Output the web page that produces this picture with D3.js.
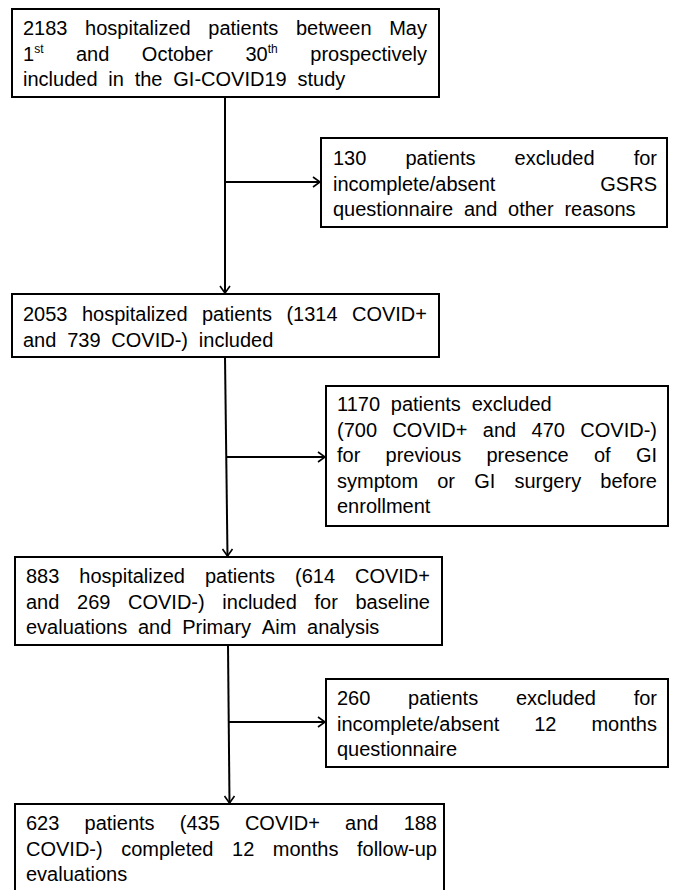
<!DOCTYPE html>
<html lang="en">
<head>
<meta charset="UTF-8">
<title>GI-COVID19 flow chart</title>
<script src="https://d3js.org/d3.v7.min.js"></script>
<style>
  body { margin: 0; background: #fff; }
  svg text { font-family: "Liberation Sans", Arial, sans-serif; font-size: 20px; fill: #000; }
</style>
</head>
<body>
<div id="chart"></div>
<script>
// text of each box, one array per line; "^" marks a superscript, "|" marks the last (unjustified) line
var box1Lines = [
  "2183 hospitalized patients between May",
  "1^st and October 30^th prospectively",
  "|included in the GI-COVID19 study"
];
var box2Lines = [
  "130 patients excluded for",
  "incomplete/absent GSRS",
  "|questionnaire and other reasons"
];
var box3Lines = [
  "2053 hospitalized patients (1314 COVID+",
  "|and 739 COVID-) included"
];
var box4Lines = [
  "|1170 patients excluded",
  "(700 COVID+ and 470 COVID-)",
  "for previous presence of GI",
  "symptom or GI surgery before",
  "|enrollment"
];
var box5Lines = [
  "883 hospitalized patients (614 COVID+",
  "and 269 COVID-) included for baseline",
  "|evaluations and Primary Aim analysis"
];
var box6Lines = [
  "260 patients excluded for",
  "incomplete/absent 12 months",
  "|questionnaire"
];
var box7Lines = [
  "623 patients (435 COVID+ and 188",
  "COVID-) completed 12 months follow-up",
  "|evaluations"
];

// layout of the boxes
var boxes = [
  {lines: box1Lines, x: 12,  y: 9,   w: 427, h: 88,  tx0: 23,  tx1: 427, base: 35},
  {lines: box2Lines, x: 321, y: 138, w: 346, h: 89,  tx0: 333, tx1: 657, base: 165},
  {lines: box3Lines, x: 12,  y: 294, w: 427, h: 63,  tx0: 23,  tx1: 427, base: 321},
  {lines: box4Lines, x: 326, y: 386, w: 342, h: 140, tx0: 337, tx1: 657, base: 411},
  {lines: box5Lines, x: 15,  y: 557, w: 427, h: 88,  tx0: 26,  tx1: 430, base: 583},
  {lines: box6Lines, x: 326, y: 679, w: 342, h: 88,  tx0: 337, tx1: 657, base: 705},
  {lines: box7Lines, x: 15,  y: 804, w: 429, h: 100, tx0: 26,  tx1: 437, base: 830}
];
var lineGap = 25.5;
var wordGap = 10.8;   // spacing between words on an unjustified line

// connectors: main trunk plus the side branch to the exclusion box
var links = [
  {x0: 225, y0: 97,  x1: 225,   y1: 294, by: 182, bx: 321},
  {x0: 225, y0: 357, x1: 227.5, y1: 557, by: 457, bx: 326},
  {x0: 228, y0: 645, x1: 229.5, y1: 804, by: 722, bx: 326}
];

var W = 673, H = 890;
var svg = d3.select("#chart").append("svg")
  .attr("width", W).attr("height", H);

// box outlines
svg.selectAll("rect.box")
  .data(boxes)
  .enter().append("rect")
    .attr("class", "box")
    .attr("x", function(d) { return d.x; })
    .attr("y", function(d) { return d.y; })
    .attr("width", function(d) { return d.w; })
    .attr("height", function(d) { return d.h; })
    .attr("fill", "#fff")
    .attr("stroke", "#000")
    .attr("stroke-width", 2);

// justified text, word by word
boxes.forEach(function(b) {
  var g = svg.append("g");
  b.lines.forEach(function(raw, li) {
    var last = raw.charAt(0) === "|";
    var words = (last ? raw.slice(1) : raw).split(" ");
    var y = b.base + li * lineGap;
    var nodes = words.map(function(w) {
      var t = g.append("text").attr("y", y);
      var parts = w.split("^");
      t.append("tspan").text(parts[0]);
      if (parts.length > 1) {
        t.append("tspan").attr("dy", -8).style("font-size", "12px").text(parts[1]);
      }
      return t;
    });
    var widths = nodes.map(function(t) { return t.node().getComputedTextLength(); });
    var total = d3.sum(widths);
    var gap = (!last && words.length > 1) ? (b.tx1 - b.tx0 - total) / (words.length - 1) : wordGap;
    var x = b.tx0;
    nodes.forEach(function(t, i) {
      t.attr("x", x);
      x += widths[i] + gap;
    });
  });
});

// connectors
var line = svg.append("g").attr("stroke", "#000").attr("stroke-width", 2).attr("fill", "none");
links.forEach(function(l) {
  line.append("line").attr("x1", l.x0).attr("y1", l.y0).attr("x2", l.x1).attr("y2", l.y1 - 1);
  // trunk x at branch height
  var t = (l.by - l.y0) / (l.y1 - l.y0);
  var bx0 = l.x0 + t * (l.x1 - l.x0);
  line.append("line").attr("x1", bx0).attr("y1", l.by).attr("x2", l.bx - 1).attr("y2", l.by);
  // arrow heads (open)
  line.append("path").attr("stroke-width", 1.6)
    .attr("d", "M" + (l.bx - 8) + "," + (l.by - 5) + "L" + (l.bx - 1) + "," + l.by + "L" + (l.bx - 8) + "," + (l.by + 5));
  line.append("path").attr("stroke-width", 1.6)
    .attr("d", "M" + (l.x1 - 5) + "," + (l.y1 - 8) + "L" + l.x1 + "," + (l.y1 - 1) + "L" + (l.x1 + 5) + "," + (l.y1 - 8));
});
</script>
</body>
</html>
